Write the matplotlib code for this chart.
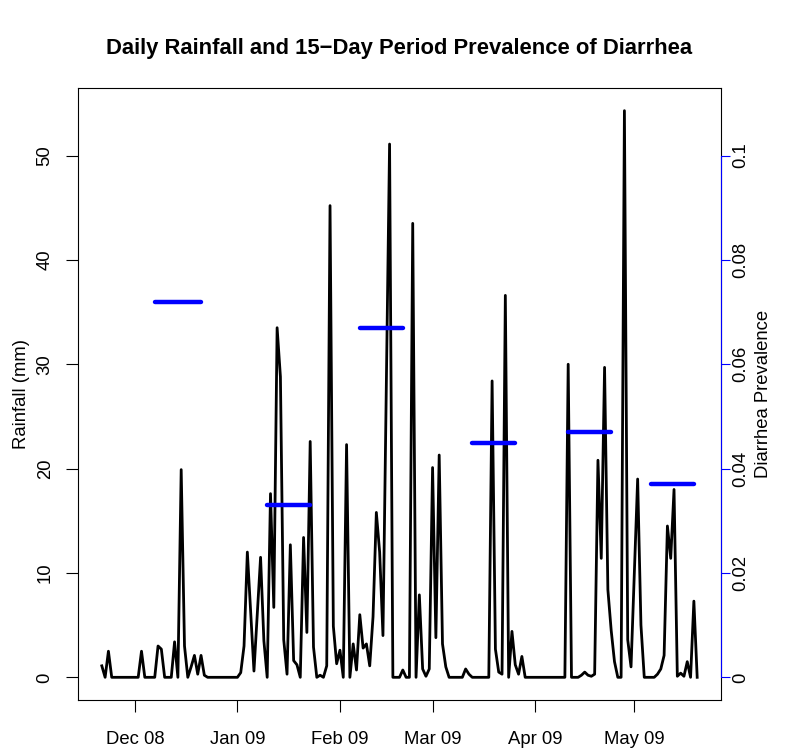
import matplotlib
matplotlib.use("Agg")
import matplotlib.pyplot as plt
import matplotlib.dates as mdates
import pandas as pd

plt.rcParams['font.family'] = ['Liberation Sans', 'DejaVu Sans']

# Lluvia diaria (mm), del 21 de noviembre de 2008 al 20 de mayo de 2009
fechas = pd.date_range("2008-11-21", "2009-05-20", freq="D")
lluvia_nov = [1.1, 0, 2.5, 0, 0, 0, 0, 0, 0, 0]
lluvia_dic = [0, 0, 2.5, 0, 0, 0, 0, 3.0, 2.7, 0, 0, 0, 3.4, 0, 19.9, 3.0,
              0, 1.0, 2.1, 0.3, 2.1, 0.2, 0, 0, 0, 0, 0, 0, 0, 0, 0]
lluvia_ene = [0, 0.45, 3.0, 12.0, 6.3, 0.6, 6.0, 11.5, 3.5, 0, 17.6, 6.7, 33.5,
              28.8, 3.6, 0.3, 12.7, 1.6, 1.2, 0, 13.4, 4.3, 22.6, 2.9, 0, 0.2,
              0, 1.1, 45.2, 4.9, 1.3]
lluvia_feb = [2.6, 0, 22.3, 0, 3.2, 0.7, 6.0, 2.8, 3.2, 1.1, 5.8, 15.8, 12.0,
              4.0, 27.5, 51.1, 0, 0, 0, 0.7, 0, 0, 43.5, 0, 7.9, 0.8, 0.1, 0.8]
lluvia_mar = [20.1, 3.8, 21.3, 3.2, 1.0, 0, 0, 0, 0, 0, 0.8, 0.3, 0, 0, 0, 0,
              0, 0, 28.4, 2.7, 0.5, 0.3, 36.6, 0, 4.4, 1.2, 0.3, 2.0, 0, 0, 0]
lluvia_abr = [0, 0, 0, 0, 0, 0, 0, 0, 0, 0, 30.0, 0, 0, 0, 0.2, 0.5, 0.2, 0.1,
              0.3, 20.8, 11.4, 29.7, 8.4, 4.5, 1.5, 0, 0, 54.3, 3.6, 1.0]
lluvia_may = [10.0, 19.0, 5.0, 0, 0, 0, 0, 0.3, 0.8, 2.1, 14.5, 11.4, 18.0,
              0.1, 0.4, 0.1, 1.5, 0, 7.3, 0]
lluvia = (lluvia_nov + lluvia_dic + lluvia_ene + lluvia_feb + lluvia_mar
          + lluvia_abr + lluvia_may)

# Prevalencia de diarrea por periodo de 15 dias
inicio_periodo = ["2008-12-07", "2009-01-10", "2009-02-07", "2009-03-13",
                  "2009-04-11", "2009-05-06"]
fin_periodo = ["2008-12-21", "2009-01-23", "2009-02-20", "2009-03-26",
               "2009-04-24", "2009-05-19"]
prevalencia = [0.072, 0.033, 0.067, 0.045, 0.047, 0.037]

meses = pd.date_range("2008-12-01", "2009-05-01", freq="MS")
ticks_lluvia = [0, 10, 20, 30, 40, 50]
ticks_prev = [0, 0.02, 0.04, 0.06, 0.08, 0.1]
etiquetas_prev = ["0", "0.02", "0.04", "0.06", "0.08", "0.1"]

TAM = 13.3

fig = plt.figure(figsize=(7.91, 7.56), dpi=100)
ax = fig.add_axes([0.0986, 0.0741, 0.8129, 0.8095])

x = mdates.date2num(fechas)
ax.plot(x, lluvia, color="black", lw=2.0, solid_joinstyle="round", zorder=3)

# rangos con la extension del 4% al estilo de R
ancho = x[-1] - x[0]
ax.set_xlim(x[0] - 0.04 * ancho, x[-1] + 0.04 * ancho)
ymax = max(lluvia)
ax.set_ylim(-0.04 * ymax, 1.04 * ymax)

ax.set_xticks(mdates.date2num(meses))
ax.set_xticklabels([m.strftime("%b %y") for m in meses])
ax.set_yticks(ticks_lluvia)
ax.set_yticklabels([str(t) for t in ticks_lluvia], rotation=90, va="center")
ax.tick_params(axis="x", length=8.5, width=0.8, labelsize=TAM, pad=14)
ax.tick_params(axis="y", length=8.5, width=0.8, labelsize=TAM, pad=9)
ax.set_ylabel("Rainfall (mm)", fontsize=TAM, labelpad=5)
for s in ax.spines.values():
    s.set_linewidth(0.8)

# eje derecho: prevalencia en la misma escala (50 mm = 0.1)
ax2 = ax.twinx()
ax2.set_ylim(ax.get_ylim()[0] / 500, ax.get_ylim()[1] / 500)
for ini, fin, p in zip(inicio_periodo, fin_periodo, prevalencia):
    xs = mdates.date2num(pd.to_datetime([ini, fin]))
    ax2.plot(xs, [p, p], color="#0000FF", lw=3.2, solid_capstyle="round",
             zorder=4)
ax2.set_yticks(ticks_prev)
ax2.set_yticklabels(etiquetas_prev, rotation=90, va="center")
ax2.tick_params(axis="y", length=6.5, width=0.8, color="#0000FF",
                labelsize=TAM, pad=1.5)
for nombre in ["left", "top", "bottom"]:
    ax2.spines[nombre].set_visible(False)
ax2.spines["right"].set_bounds(0, 0.1)
ax2.spines["right"].set_color("#0000FF")
ax2.spines["right"].set_linewidth(0.8)
ax2.set_ylabel("Diarrhea Prevalence", fontsize=TAM, labelpad=4)

ax.text(0.5, 1.064, "Daily Rainfall and 15\u2212Day Period Prevalence of Diarrhea",
        transform=ax.transAxes, ha="center", va="center",
        fontsize=15.8, fontweight="bold")

fig.savefig("out.png", dpi=100)
